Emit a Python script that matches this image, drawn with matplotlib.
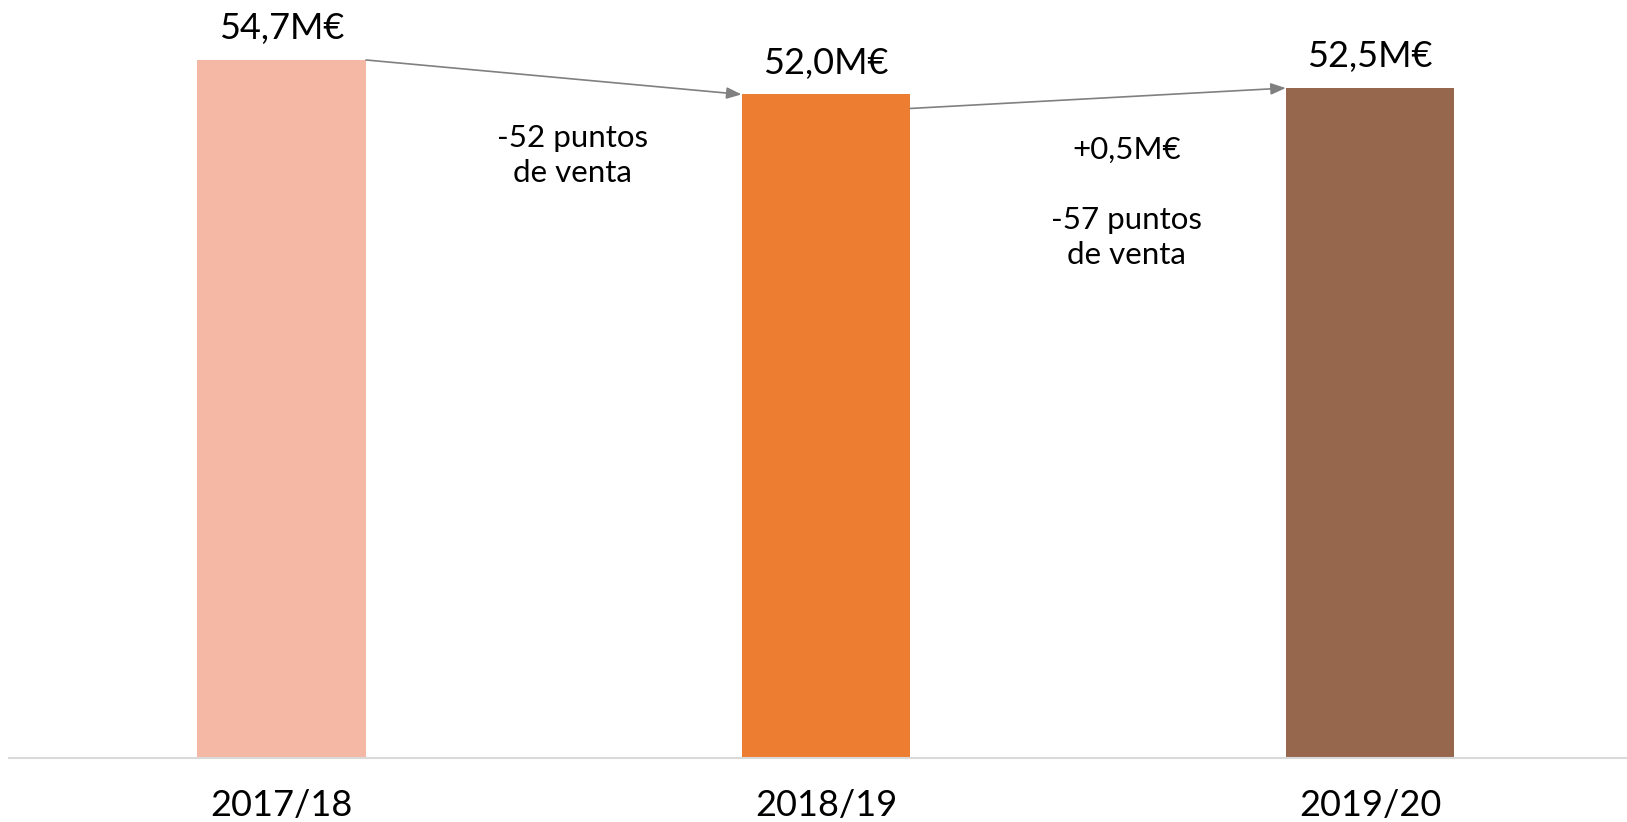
import matplotlib
matplotlib.use("Agg")
import matplotlib.pyplot as plt

# ---- data ----
categories = ["2017/18", "2018/19", "2019/20"]
values = [54.7, 52.0, 52.5]
bar_colors = ["#F4B8A5", "#ED7D31", "#96674C"]
change_notes = ["-52 puntos\nde venta", "+0,5M€", "-57 puntos\nde venta"]

plt.rcParams['font.family'] = ['Lato', 'DejaVu Sans']

W, H = 1627, 822
fig = plt.figure(figsize=(W / 100, H / 100), dpi=100)
ax = fig.add_axes([9 / W, 1 - 758 / H, 1 - 9 / W, 758 / H])

bar_w = 0.31
x = list(range(len(categories)))
ax.bar(x, values, width=bar_w, color=bar_colors, zorder=2)

ax.set_ylim(0, 59.4)
ax.set_xlim(-0.501, 2.472)

for s in ["top", "left", "right"]:
    ax.spines[s].set_visible(False)
ax.spines["bottom"].set_color("#D9D9D9")
ax.spines["bottom"].set_linewidth(1.5)
ax.set_yticks([])
ax.set_xticks(x)
ax.set_xticklabels(categories, fontsize=26)
ax.tick_params(axis="x", length=0, pad=22)

# value labels
for xi, v in zip(x, values):
    lab = f"{v:.1f}".replace(".", ",") + "M€"
    ax.annotate(lab, xy=(xi, v), xytext=(0, 22.5), textcoords="offset points",
                ha="center", va="center", fontsize=26)

# arrows between bars
arrow_kw = dict(arrowstyle="-|>,head_length=0.9,head_width=0.35", color="#808080", lw=1.2,
                shrinkA=0, shrinkB=0)
ax.annotate("", xy=(1 - bar_w / 2, values[1]), xytext=(0 + bar_w / 2, values[0]),
            arrowprops=arrow_kw)
ax.annotate("", xy=(2 - bar_w / 2, values[2]), xytext=(1 + bar_w / 2, values[1] - 1.1),
            arrowprops=arrow_kw)

# change notes
ax.text(0.534, 47.2, change_notes[0], ha="center", va="center", fontsize=22.5, linespacing=1.3)
ax.text(1.552, 47.65, change_notes[1], ha="center", va="center", fontsize=22.5)
ax.text(1.552, 40.8, change_notes[2], ha="center", va="center", fontsize=22.5, linespacing=1.3)

fig.savefig("out.png", dpi=100)
